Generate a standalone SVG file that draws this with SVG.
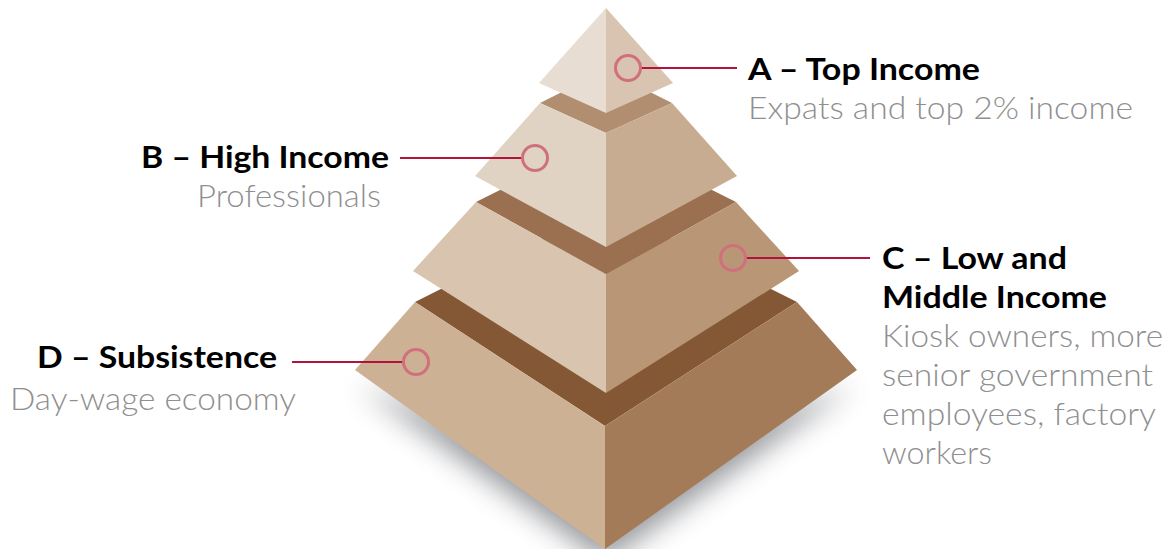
<svg xmlns="http://www.w3.org/2000/svg" width="1171" height="549" viewBox="0 0 1171 549">
<defs>
<filter id="blur" x="-20%" y="-20%" width="140%" height="160%"><feGaussianBlur stdDeviation="14"/></filter>
<style>
.title{font-family:Lato,"Noto Sans",sans-serif;font-weight:700;font-size:31px;fill:#000}
.sub{font-family:Lato,"Noto Sans",sans-serif;font-weight:300;font-size:31px;fill:#8f8f8f}
.ring{fill:none;stroke:#D0707C;stroke-width:3}
.lead{stroke:#B3123C;stroke-width:2;fill:none}
</style>
</defs>
<rect width="1171" height="549" fill="#fff"/>
<g id="shadow"><polygon points="360,386 605,562 852,386 605,466" fill="#5d6168" opacity="0.65" filter="url(#blur)"/></g>
<g id="tier-d">
<polygon points="415,302 605,426 797,302 606,206" fill="#845834"/>
<polygon points="415,302 355,370 605,549 605,426" fill="#CDB195"/>
<polygon points="797,302 857,370 605,549 605,426" fill="#A47B58"/>
</g>
<g id="tier-c">
<polygon points="476,202 606,274 736,202 606,137" fill="#9A7050"/>
<polygon points="476,202 413,271 606,393 606,274" fill="#D9C4AF"/>
<polygon points="736,202 799,271 606,393 606,274" fill="#B89676"/>
</g>
<g id="tier-b">
<polygon points="540,103 606,133 672,103 606,70" fill="#B08E6F"/>
<polygon points="540,103 475,176 606,247 606,133" fill="#E1D3C3"/>
<polygon points="672,103 737,176 606,247 606,133" fill="#C8AC92"/>
</g>
<g id="tier-a">
<polygon points="606,8 539,83 606,113" fill="#E8DDD2"/>
<polygon points="606,8 673,83 606,113" fill="#D8C4B0"/>
</g>
<g id="connectors">
<line class="lead" x1="641" y1="68" x2="737" y2="68"/>
<circle class="ring" cx="628" cy="68" r="12.5"/>
<line class="lead" x1="400" y1="158" x2="522" y2="158"/>
<circle class="ring" cx="535" cy="158" r="12.5"/>
<line class="lead" x1="746" y1="258" x2="870" y2="258"/>
<circle class="ring" cx="733" cy="258" r="12.5"/>
<line class="lead" x1="292" y1="362" x2="403" y2="362"/>
<circle class="ring" cx="416" cy="362" r="12.5"/>
</g>
<g id="label-a">
<text class="title" x="748" y="80" textLength="232" lengthAdjust="spacingAndGlyphs">A – Top Income</text>
<text class="sub" x="748" y="119" textLength="385" lengthAdjust="spacingAndGlyphs">Expats and top 2% income</text>
</g>
<g id="label-b">
<text class="title" x="141" y="168" textLength="248" lengthAdjust="spacingAndGlyphs">B – High Income</text>
<text class="sub" x="197" y="207" textLength="184" lengthAdjust="spacingAndGlyphs">Professionals</text>
</g>
<g id="label-c">
<text class="title" x="882" y="269" textLength="185" lengthAdjust="spacingAndGlyphs">C – Low and</text>
<text class="title" x="882" y="308" textLength="225" lengthAdjust="spacingAndGlyphs">Middle Income</text>
<text class="sub" x="882" y="347" textLength="281" lengthAdjust="spacingAndGlyphs">Kiosk owners, more</text>
<text class="sub" x="882" y="386" textLength="271" lengthAdjust="spacingAndGlyphs">senior government</text>
<text class="sub" x="882" y="425" textLength="274" lengthAdjust="spacingAndGlyphs">employees, factory</text>
<text class="sub" x="882" y="464" textLength="110" lengthAdjust="spacingAndGlyphs">workers</text>
</g>
<g id="label-d">
<text class="title" x="37" y="368" textLength="240" lengthAdjust="spacingAndGlyphs">D – Subsistence</text>
<text class="sub" x="10" y="410" textLength="286" lengthAdjust="spacingAndGlyphs">Day-wage economy</text>
</g>
</svg>
